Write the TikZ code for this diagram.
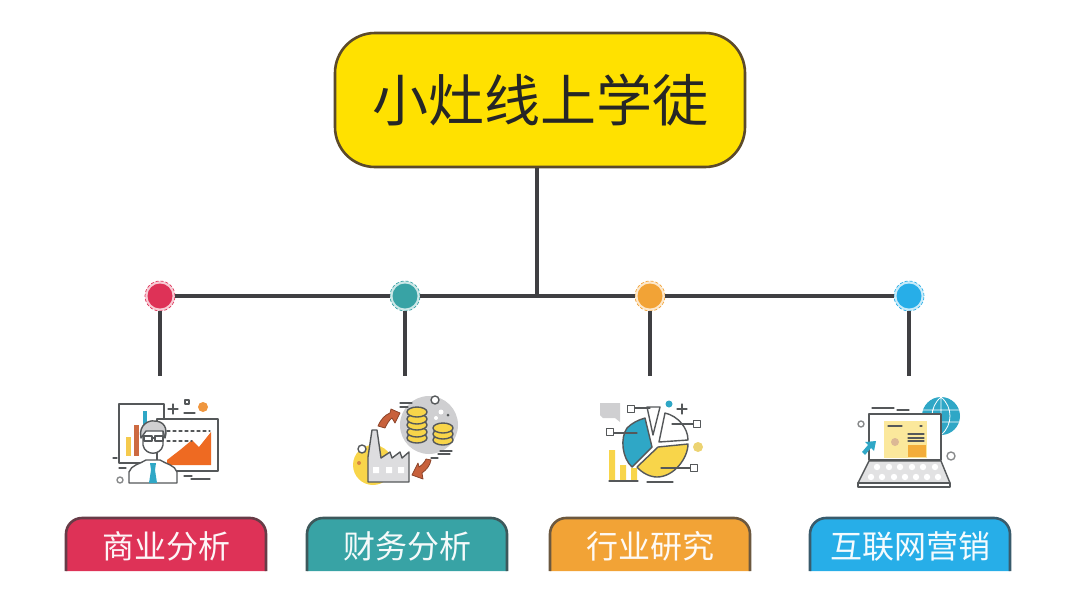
\documentclass[tikz,border=0pt]{standalone}
\usepackage{fontspec}
\setmainfont{Noto Sans CJK SC}
\definecolor{rootfill}{HTML}{FFE100}
\definecolor{rootline}{HTML}{5C4A2A}
\definecolor{connline}{HTML}{3F3F42}
\definecolor{redc}{HTML}{DE3257}
\definecolor{tealc}{HTML}{38A3A5}
\definecolor{orangec}{HTML}{F2A336}
\definecolor{bluec}{HTML}{27AEE8}
\definecolor{icline}{HTML}{55585A}
\definecolor{icgray}{HTML}{CFCFD1}
\definecolor{icyellow}{HTML}{F8D54A}
\definecolor{icorange}{HTML}{EE6A22}
\definecolor{ictan}{HTML}{E8A05A}
\definecolor{icbrown}{HTML}{C8613C}
\definecolor{icteal}{HTML}{2FA7C6}
\tikzset{
	conn/.style={draw=connline, line width=3.6pt},
	rootbox/.style={draw=rootline, fill=rootfill, line width=2.6pt, rounded corners=40pt, minimum width=410pt, minimum height=134pt, inner sep=0pt, font=\fontsize{56}{60}\selectfont, text=black!85},
	dotnode/.style={circle, inner sep=0pt, minimum size=30pt, fill=#1!25, draw=#1, densely dashed, line width=0.7pt, path picture={\fill[#1] (path picture bounding box.center) circle (12.5);}},
	tabtext/.style={text=white!95!#1, font=\fontsize{32}{34}\selectfont, inner sep=0pt},
	ic/.style={draw=icline, line width=1.4pt, line join=round},
	icthin/.style={draw=icline, line width=1.1pt, line cap=round}
}
\begin{document}
\begin{tikzpicture}[x=1pt, y=-1pt, line join=round]
	\useasboundingbox (0,0) rectangle (1080,600);
	\node[rootbox] (root) at (540,100) {小灶线上学徒};
	\coordinate (bus) at (537,296);
	\foreach \p/\x/\y/\c/\t in {A/160/166/redc/商业分析, B/405/407/tealc/财务分析, C/650/650/orangec/行业研究, D/909/910/bluec/互联网营销}{
		\node[dotnode=\c] (dot\p) at (\x,296) {};
		\coordinate (end\p) at (\x,376);
		\draw[conn] (dot\p) -- (end\p);
		\draw[draw=\c!25!connline, fill=\c, line width=2.6pt, rounded corners=16pt] (\y-100,571) -- (\y-100,518) -- (\y+100,518) -- (\y+100,571);
		\node[tabtext=\c] (tab\p) at (\y,546) {\t};
	}
	\draw[conn] (dotA) -- (dotB);
	\draw[conn] (dotB) -- (dotC);
	\draw[conn] (dotC) -- (dotD);
	\draw[conn] (root.south -| bus) -- (bus);
	
	\draw[ic, fill=white] (119,404) rectangle (164,463);
	\fill[icyellow!80!ictan] (126,437) rectangle (131,456);
	\fill[icbrown!85!ictan] (134,425) rectangle (139,456);
	\fill[icteal] (143,411) rectangle (147,440);
	\draw[ic, fill=white] (157,419) rectangle (218,471);
	\fill[icorange] (167,460) -- (180,450) -- (192,440) -- (199,447) -- (211,432) -- (211,465) -- (167,465) -- cycle;
	\draw[icthin, dashed] (167,431) -- (210,431) (167,441) -- (192,441);
	\draw[ic, fill=white] (129,483) -- (129,472) .. controls (131,465) and (140,464) .. (146,460) -- (160,460) .. controls (166,464) and (175,465) .. (177,472) -- (177,483) -- cycle;
	\fill[icteal] (150,463) -- (156,463) -- (155,470) -- (157,483) -- (149,483) -- (151,470) -- cycle;
	\draw[ic, fill=white] (143,430) -- (143,445) .. controls (145,456) and (161,456) .. (163,445) -- (163,430) -- cycle;
	\draw[ic, fill=icgray] (141,438) .. controls (138,424) and (150,420) .. (154,421) .. controls (164,421) and (168,428) .. (165,438) -- (163,431) -- (146,431) -- cycle;
	\draw[icthin] (144,436) rectangle (152,441) (155,436) rectangle (163,441) (152,438) -- (155,438);
	\draw[icthin] (173,404) -- (173,414) (168,409) -- (178,409) (184,413) -- (195,413) (184,476) -- (192,476) (191,479) -- (210,479) (119,468) -- (126,468) (113,458) -- (117,458);
	\draw[icthin] (185,400) rectangle (189,404);
	\fill[ictan!70!orange] (203,407) circle (5);
	\draw[ic, draw=icline!70] (120,480) circle (3);
	
	\fill[icgray] (429,425) circle (29);
	\fill[icyellow] (373,465) circle (20);
	\foreach \y in {438,432,425,419,412}{
		\draw[ic, fill=icyellow] (417,\y) ellipse (10 and 5);}
	\foreach \y in {440,434,428}{
		\draw[ic, fill=icyellow] (443,\y) ellipse (10 and 5);}
	\draw[ic, fill=white] (435,400) circle (4);
	\fill[white] (441,412) circle (2.5) (436,418) circle (2);
	\fill[icline] (448,415) circle (1.5);
	\draw[icthin] (400,403) -- (412,403) (400,407) -- (408,407) (438,454) -- (450,454) (438,458) -- (431,458) (440,451) -- (452,451);
	\draw[ic, draw=icbrown!70!black, line width=0.8pt, fill=icbrown] (378,426) .. controls (381,419) and (385,415) .. (390,413) -- (391,409) -- (400,413) -- (395,423) -- (392,418) .. controls (389,420) and (387,424) .. (385,428) -- cycle;
	\draw[ic, draw=icbrown!70!black, line width=0.8pt, fill=icbrown] (426,459) -- (431,460) .. controls (430,466) and (426,470) .. (422,473) -- (423,479) -- (412,475) -- (418,463) -- (419,467) .. controls (422,465) and (425,462) .. (426,459) -- cycle;
	\draw[ic, fill=icgray!70] (368,482) -- (368,457) -- (372,430) -- (377,430) -- (381,458) -- (390,452) -- (392,458) -- (400,452) -- (402,458) -- (409,452) -- (409,482) -- cycle;
	\fill[white] (373,467) rectangle (379,473) (386,467) rectangle (392,473) (398,467) rectangle (404,473);
	\draw[ic, fill=white] (362,449) circle (4);
	\fill[icbrown!70!icyellow] (359,463) circle (2);
	
	\fill[icgray] (600,403) -- (620,403) -- (620,422) -- (615,418) -- (603,418) -- (600,415) -- cycle;
	\fill[icyellow] (609,450) rectangle (615,480) (620,465) rectangle (626,480) (631,468) rectangle (637,480);
	\draw[icthin] (609,481) -- (638,481) (647,482) -- (673,482);
	\draw[ic, fill=icteal] (652,447) -- (632,467) .. controls (622,458) and (620,438) .. (627,428) .. controls (632,423) and (638,420) .. (645,418) -- cycle;
	\draw[ic, fill=white] (659,442) -- (665,413) .. controls (678,416) and (688,428) .. (688,440) -- cycle;
	\draw[ic, fill=icyellow] (658,447) -- (688,444) .. controls (688,458) and (674,477) .. (657,477) .. controls (650,477) and (642,473) .. (637,467) -- cycle;
	\draw[ic, fill=white] (647,407) -- (660,407) -- (653,435) -- cycle;
	\draw[icthin] (634,408) -- (650,408) (613,433) -- (637,433) (672,424) -- (693,424) (661,468) -- (690,468) (682,404) -- (682,414) (677,409) -- (687,409);
	\foreach \x/\y in {631/409, 610/432, 697/424, 694/468}{
		\draw[ic, fill=white] (\x-3.5,\y-3.5) rectangle (\x+3.5,\y+3.5);}
	\fill[icteal] (669,404) circle (3.5);
	\fill[icyellow!70!icgray] (698,447) circle (5);
	
	\fill[icteal] (941,416) circle (19);
	\draw[white, line width=0.8pt] (922,410) -- (960,410) (923,422) -- (959,422) (941,397) -- (941,435) (941,397) .. controls (929,407) and (929,425) .. (941,435) (941,397) .. controls (953,407) and (953,425) .. (941,435);
	\draw[ic, fill=white] (869,414) rectangle (941,460);
	\fill[icyellow!55] (884,421) rectangle (927,458);
	\fill[orangec!80!icyellow] (908,445) rectangle (926,457);
	\fill[ictan!50!icgray] (895,442) circle (4);
	\draw[icthin] (888,426) -- (902,426) (908,434) -- (924,434) (908,438) -- (924,438) (908,441) -- (924,441) (920,426) -- (922,426);
	\draw[ic, fill=icgray!60] (869,461) -- (941,461) -- (950,483) -- (858,483) -- cycle;
	\draw[ic, fill=white] (858,483) rectangle (950,487);
	\foreach \x in {877,889,900,912,923,935}{
		\fill[white] (\x,467) circle (3.2);}
	\foreach \x in {871,882,894,905,916,927,938}{
		\fill[white] (\x,477) circle (3.2);}
	\fill[icteal] (876,441) -- (874,451) -- (871,448) -- (865,455) -- (862,452) -- (868,445) -- (865,442) -- cycle;
	\draw[ic, draw=icline!70] (861,424) circle (3) (951,456) circle (4);
	\draw[icthin] (872,408) -- (894,408) (897,410) -- (909,410);
\end{tikzpicture}
\end{document}
